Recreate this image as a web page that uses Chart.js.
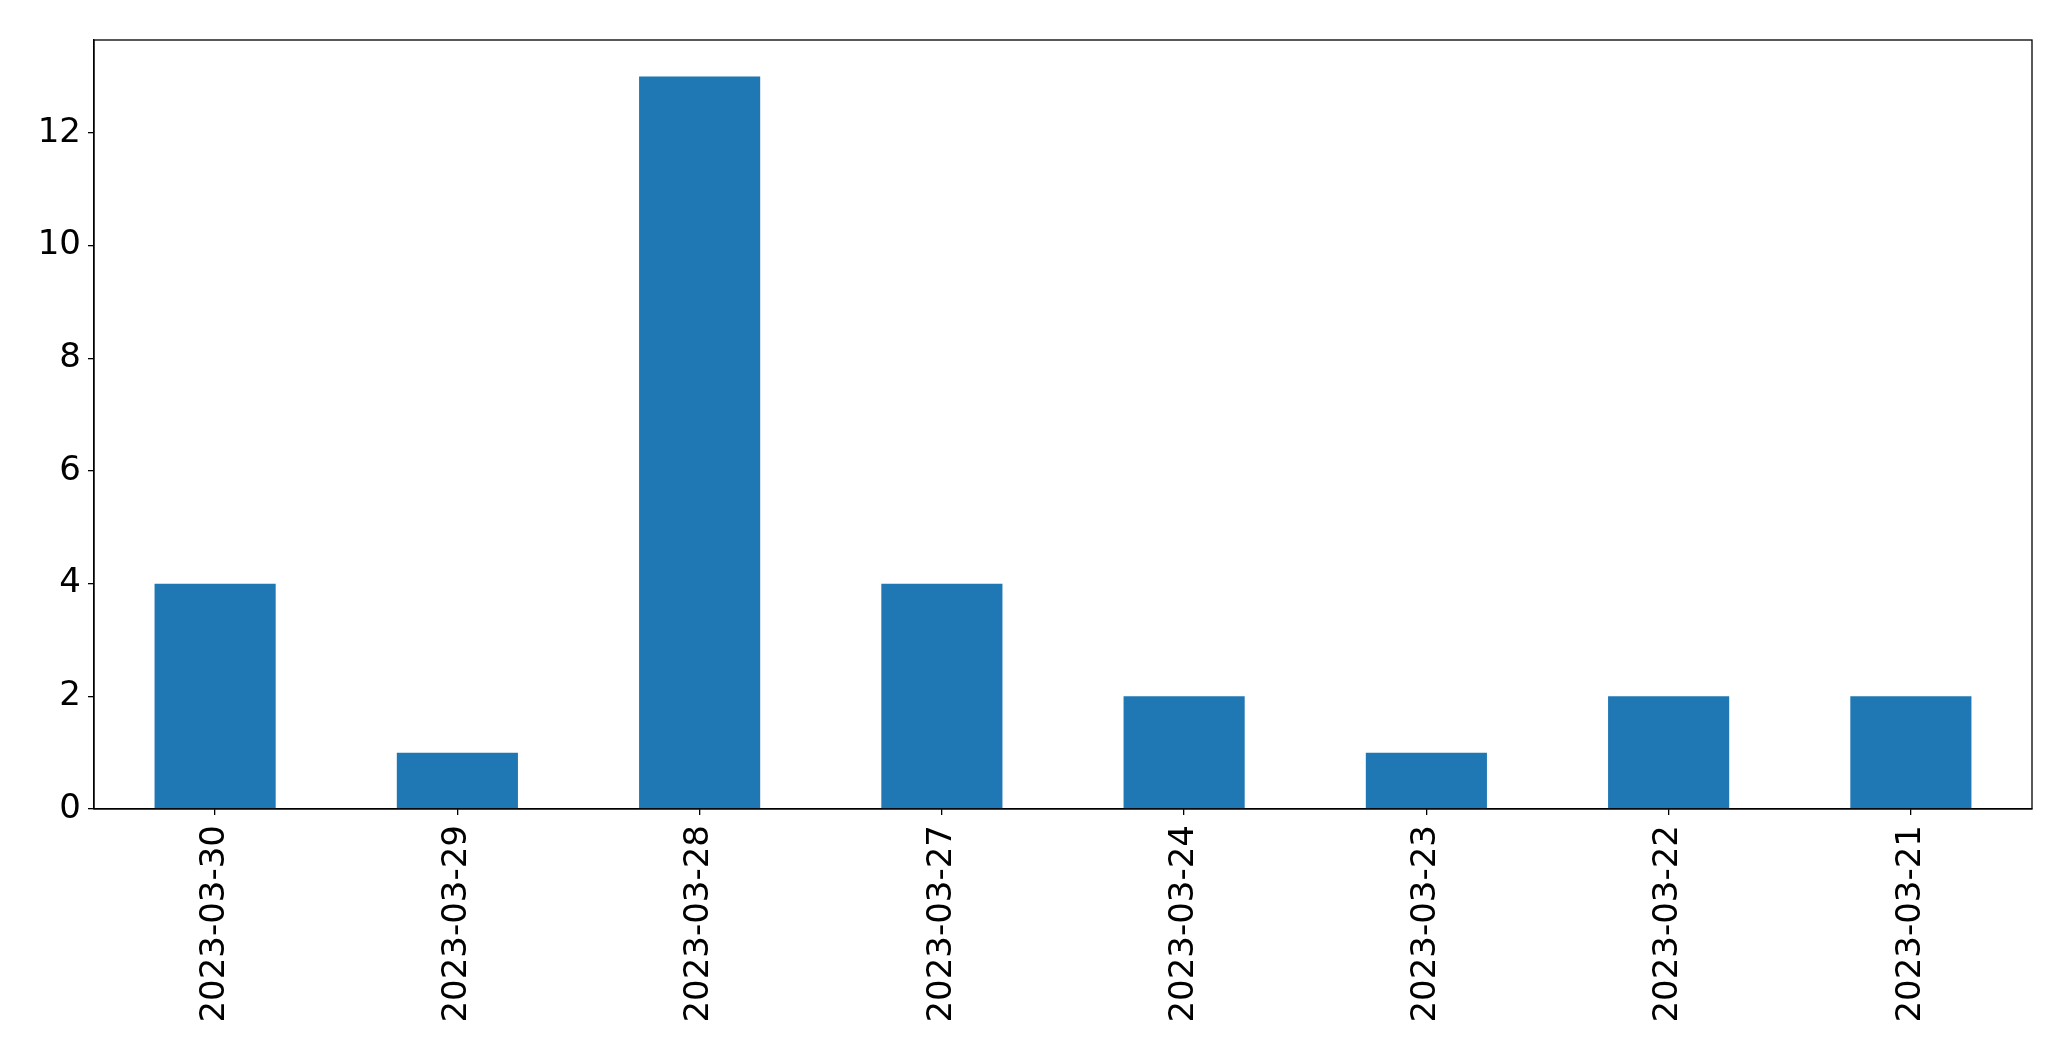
<!DOCTYPE html>
<html>
<head>
  <meta charset="UTF-8">
  <title>Bar chart</title>
  <style>
    body { margin: 0; background: #fff; }
    #wrap { width: 2071px; height: 1061px; }
  </style>
</head>
<body>
  <div id="wrap"><canvas id="chart" width="2071" height="1061"></canvas></div>

  <script src="https://cdn.jsdelivr.net/npm/chart.js"></script>
  <script>
    const dates = ['2023-03-30','2023-03-29','2023-03-28','2023-03-27','2023-03-24','2023-03-23','2023-03-22','2023-03-21'];
    const counts = [4, 1, 13, 4, 2, 1, 2, 2];
    const yTicks = [0, 2, 4, 6, 8, 10, 12];

    const FONT = { family: 'DejaVu Sans', size: 34 };

    // full box around plot area, like matplotlib spines
    const frame = {
      id: 'frame',
      afterDraw(chart) {
        const a = chart.chartArea, c = chart.ctx;
        c.save();
        c.strokeStyle = '#000';
        c.lineWidth = 1.3;
        c.strokeRect(a.left, a.top, a.right - a.left, a.bottom - a.top);
        c.restore();
      }
    };

    new Chart(document.getElementById('chart'), {
      type: 'bar',
      data: {
        labels: dates,
        datasets: [{ data: counts, backgroundColor: '#1f77b4', barPercentage: 0.5, categoryPercentage: 1.0 }]
      },
      options: {
        responsive: false,
        animation: false,
        layout: { padding: { top: 40, right: 39, left: 0, bottom: 0 } },
        plugins: { legend: { display: false }, tooltip: { enabled: false } },
        scales: {
          x: {
            offset: true,
            grid: { display: true, offset: false, drawOnChartArea: false, drawTicks: true, tickLength: 6, color: '#000', lineWidth: 1.3 },
            border: { display: true, color: '#000', width: 1.3 },
            ticks: { color: '#000', font: FONT, minRotation: 90, maxRotation: 90, padding: 10, autoSkip: false },
            afterFit: s => { s.height = 252; }
          },
          y: {
            min: 0,
            max: 13.65,
            grid: { display: true, drawOnChartArea: false, drawTicks: true, tickLength: 6, color: '#000', lineWidth: 1.3 },
            border: { display: true, color: '#000', width: 1.3 },
            ticks: { color: '#000', font: FONT, padding: 7 },
            afterBuildTicks: s => { s.ticks = yTicks.map(v => ({ value: v })); },
            afterFit: s => { s.width = 94; }
          }
        }
      },
      plugins: [frame]
    });
  </script>
</body>
</html>
